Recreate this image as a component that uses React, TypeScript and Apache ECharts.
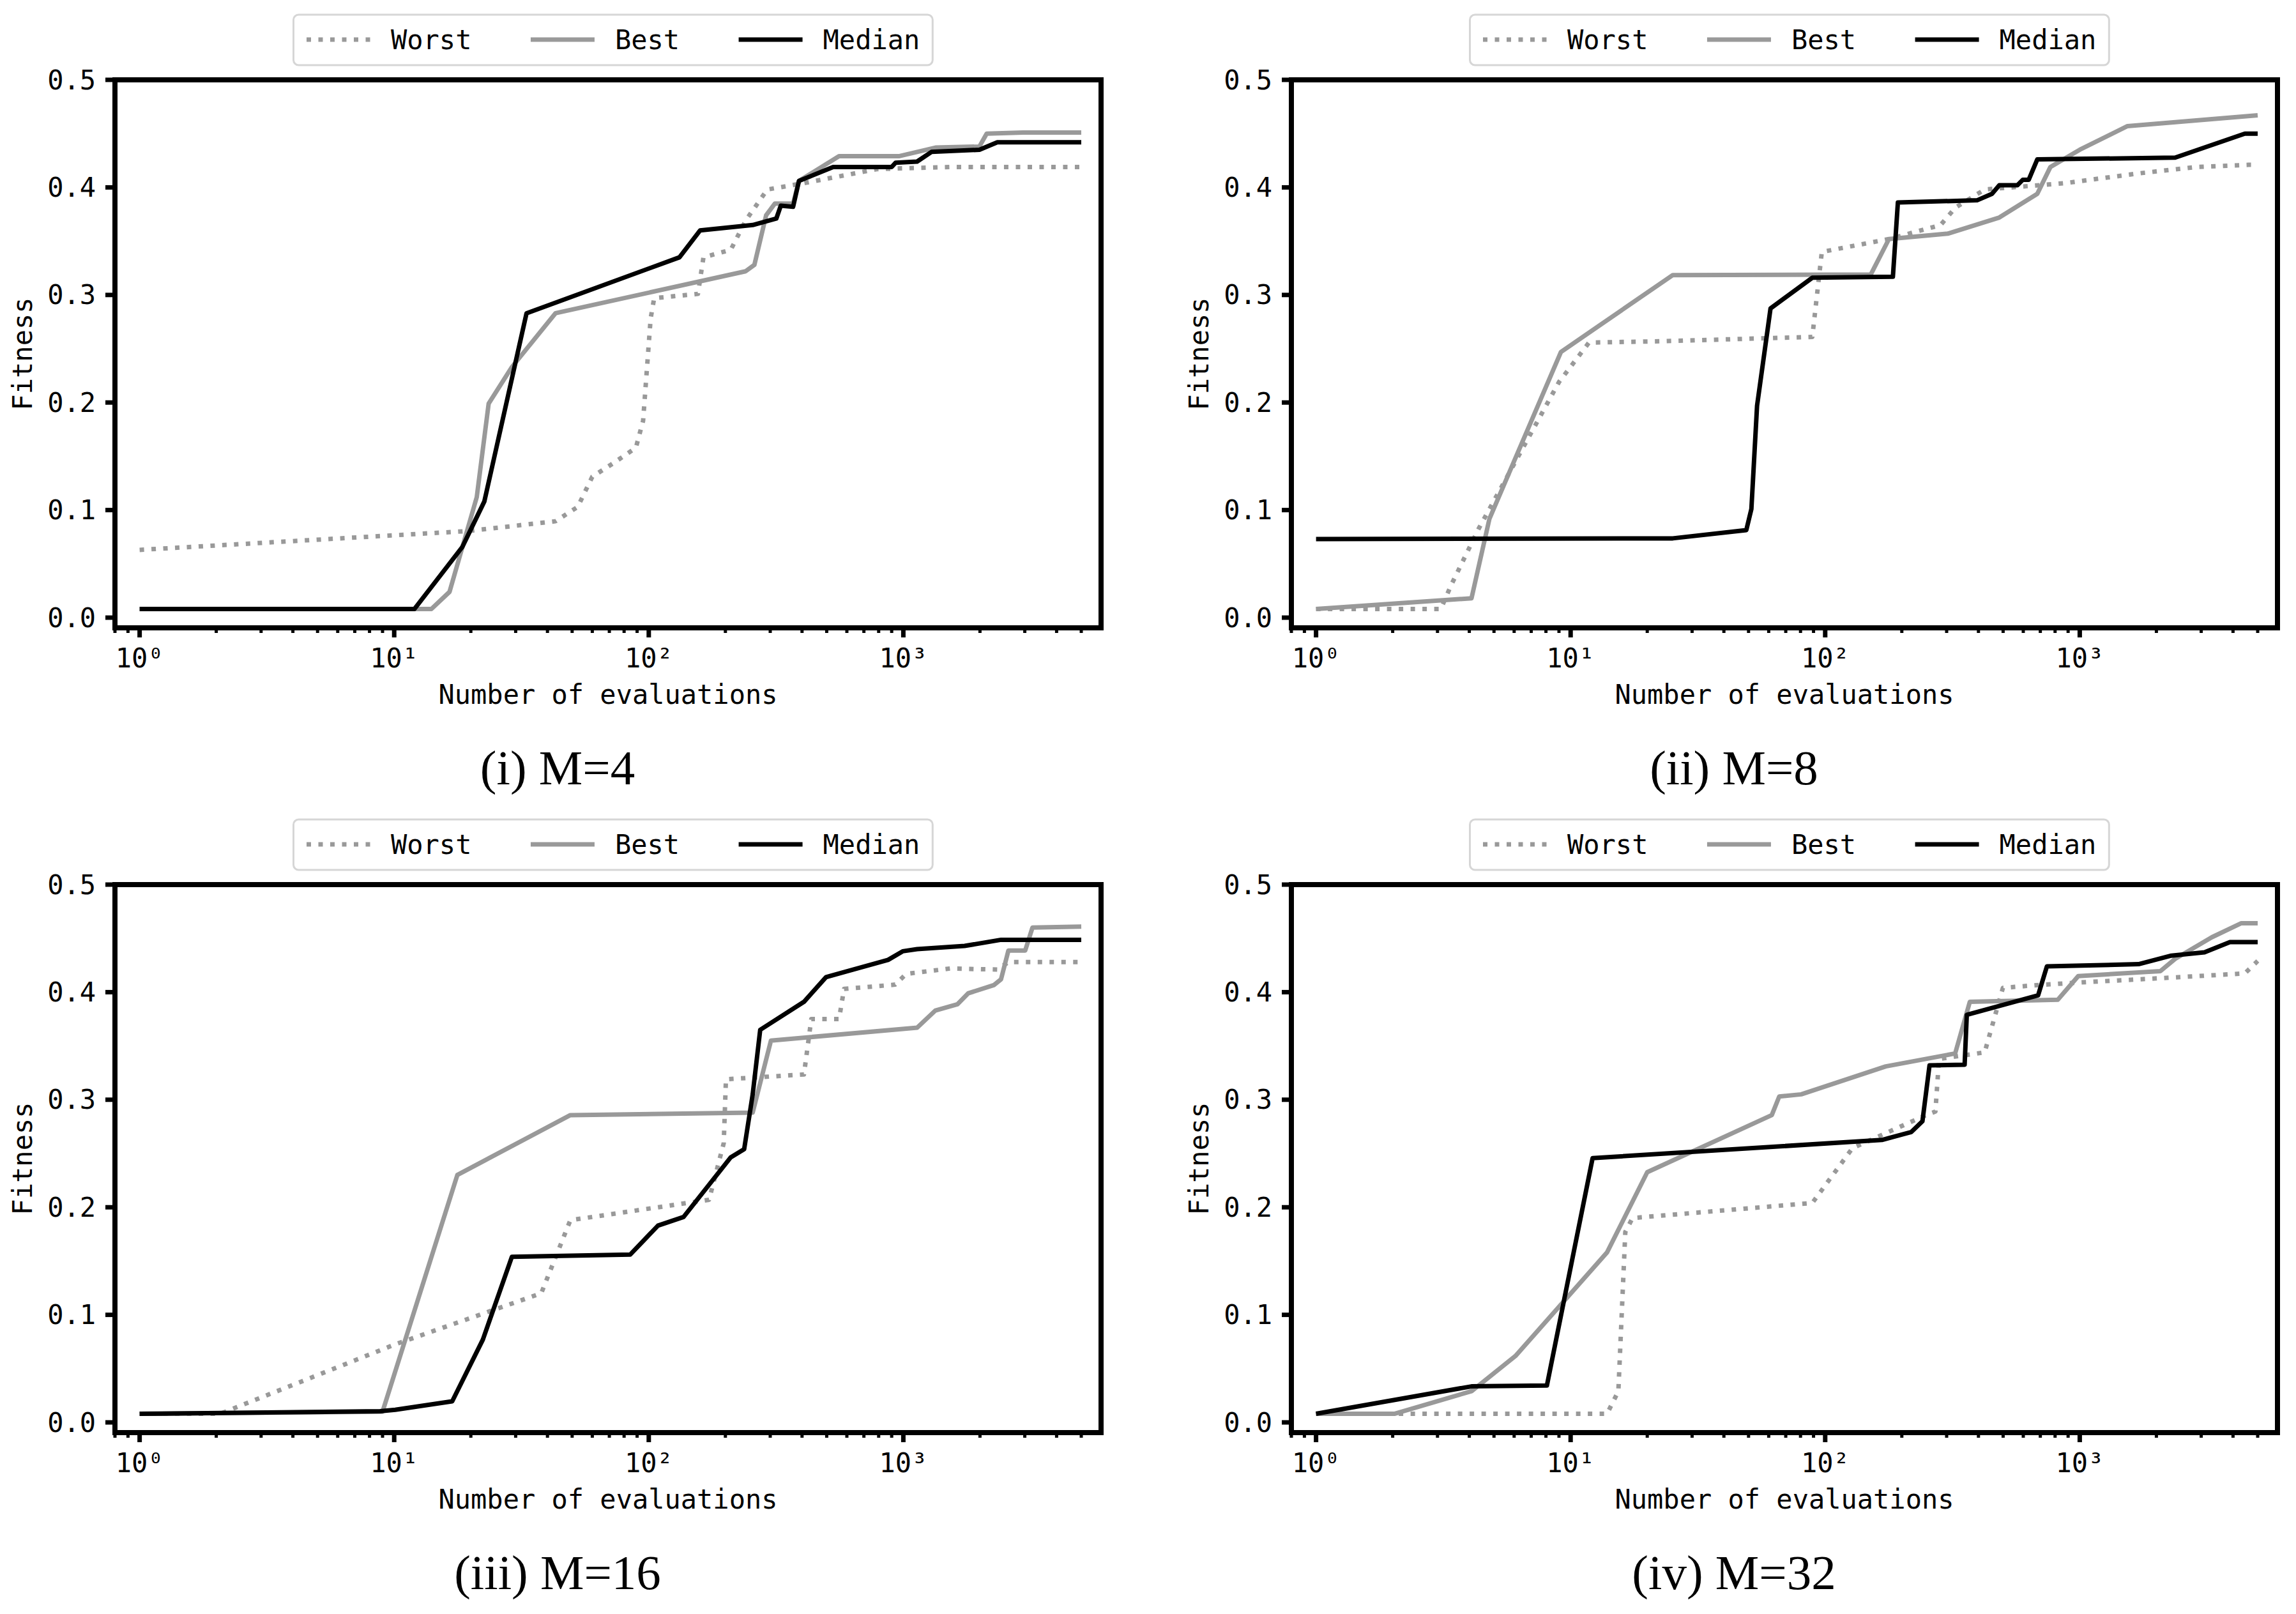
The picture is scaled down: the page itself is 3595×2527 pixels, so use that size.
import React, { useEffect, useRef } from "react";
import * as echarts from "echarts";

type Pt = [number, number];

const SERIES_NAMES = ["Worst", "Best", "Median"];
const PANEL_TITLES = ["(i) M=4", "(ii) M=8", "(iii) M=16", "(iv) M=32"];

// values: [evaluations, fitness]
const M4_WORST: Pt[] = [
  [1, 0.063], [19.5, 0.0805], [43, 0.0896], [52.6, 0.103], [60, 0.131], [73, 0.144],
  [89, 0.158], [95, 0.183], [101.7, 0.278], [105, 0.297], [156, 0.301], [164, 0.335],
  [210, 0.342], [240, 0.369], [292, 0.398], [407, 0.404], [788, 0.417], [1525, 0.419],
  [5000, 0.419],
];
const M4_BEST: Pt[] = [
  [1, 0.008], [14, 0.008], [16.5, 0.024], [21.1, 0.112], [23.5, 0.199], [29, 0.233],
  [43, 0.283], [240, 0.322], [260, 0.328], [289, 0.374], [313, 0.385], [369, 0.385],
  [389, 0.406], [559, 0.429], [960, 0.429], [1337, 0.437], [1990, 0.438], [2125, 0.45],
  [2955, 0.451], [5000, 0.451],
];
const M4_MEDIAN: Pt[] = [
  [1, 0.008], [12, 0.008], [18.5, 0.0655], [22.6, 0.108], [33.1, 0.283], [132, 0.335],
  [159, 0.36], [256, 0.365], [317, 0.371], [330, 0.383], [369, 0.382], [389, 0.406],
  [530, 0.419], [900, 0.419], [933, 0.423], [1132, 0.424], [1290, 0.433], [1990, 0.435],
  [2340, 0.442], [5000, 0.442],
];

const M8_WORST: Pt[] = [
  [1, 0.008], [3.09, 0.008], [3.39, 0.03], [4.36, 0.083], [9.0, 0.219], [11.8, 0.2557],
  [22.9, 0.257], [89, 0.261], [97, 0.34], [178, 0.352], [284, 0.365], [324, 0.381],
  [423, 0.398], [877, 0.404], [1700, 0.413], [2890, 0.419], [4600, 0.421], [5000, 0.421],
];
const M8_BEST: Pt[] = [
  [1, 0.008], [4.08, 0.018], [4.8, 0.092], [9.16, 0.247], [25.2, 0.3185], [151, 0.319],
  [178, 0.352], [303, 0.357], [483, 0.372], [681, 0.394], [767, 0.419], [1000, 0.435],
  [1540, 0.457], [5000, 0.467],
];
const M8_MEDIAN: Pt[] = [
  [1, 0.073], [25.2, 0.0737], [49, 0.0814], [51.3, 0.101], [54, 0.197], [61, 0.2875],
  [89, 0.316], [184.5, 0.317], [193, 0.386], [395, 0.388], [452, 0.394], [483, 0.402],
  [569, 0.402], [597, 0.407], [630, 0.407], [681, 0.426], [2371, 0.4277], [4450, 0.45],
  [5000, 0.45],
];

const M16_WORST: Pt[] = [
  [1, 0.008], [2.07, 0.008], [10.1, 0.0726], [37.8, 0.12], [49.2, 0.188], [172.5, 0.207],
  [197, 0.2596], [201, 0.319], [407, 0.3235], [435, 0.375], [559, 0.375], [585, 0.403],
  [929, 0.407], [1026, 0.417], [1525, 0.422], [2340, 0.421], [2590, 0.428], [5000, 0.428],
];
const M16_BEST: Pt[] = [
  [1, 0.008], [9.0, 0.01], [17.7, 0.23], [49.2, 0.2857], [256, 0.288], [302, 0.355],
  [1133, 0.367], [1337, 0.383], [1630, 0.3887], [1800, 0.399], [2266, 0.4065], [2420, 0.412],
  [2587, 0.4387], [3011, 0.4387], [3215, 0.46], [5000, 0.461],
];
const M16_MEDIAN: Pt[] = [
  [1, 0.008], [8.8, 0.0104], [10.1, 0.0117], [16.9, 0.0196], [22.3, 0.077], [29, 0.154],
  [84.5, 0.156], [108.7, 0.183], [137, 0.191], [210, 0.2465], [237, 0.254], [256, 0.305],
  [274, 0.365], [407, 0.391], [497, 0.414], [871, 0.43], [994, 0.438], [1133, 0.44],
  [1740, 0.443], [2420, 0.4487], [5000, 0.4487],
];

const M32_WORST: Pt[] = [
  [1, 0.008], [13.9, 0.008], [15.4, 0.029], [16.4, 0.177], [17.5, 0.19], [89, 0.204],
  [128, 0.255], [249, 0.2857], [271, 0.289], [280, 0.338], [423, 0.344], [499, 0.404],
  [673, 0.4065], [1000, 0.409], [2075, 0.413], [4450, 0.4174], [5000, 0.429],
];
const M32_BEST: Pt[] = [
  [1, 0.008], [2.03, 0.008], [4.08, 0.029], [6.07, 0.0617], [13.9, 0.158], [20, 0.2326],
  [61.7, 0.2857], [66, 0.303], [80.5, 0.305], [173, 0.331], [324, 0.343], [370, 0.391],
  [820, 0.393], [987, 0.415], [2075, 0.4196], [2370, 0.431], [3300, 0.451], [4300, 0.464],
  [5000, 0.464],
];
const M32_MEDIAN: Pt[] = [
  [1, 0.008], [4.08, 0.0335], [8.07, 0.0343], [12.2, 0.2457], [167, 0.2626], [218, 0.27],
  [241, 0.28], [257, 0.332], [353, 0.3326], [360, 0.379], [686, 0.397], [743, 0.424],
  [1702, 0.426], [2290, 0.434], [3090, 0.437], [3890, 0.4465], [5000, 0.4465],
];

const PANEL_DATA: Pt[][][] = [
  [M4_WORST, M4_BEST, M4_MEDIAN],
  [M8_WORST, M8_BEST, M8_MEDIAN],
  [M16_WORST, M16_BEST, M16_MEDIAN],
  [M32_WORST, M32_BEST, M32_MEDIAN],
];

const X_MAJOR = [1, 10, 100, 1000];
const X_MAJOR_LABELS = ["10⁰", "10¹", "10²", "10³"];
const X_MINOR = [
  0.8, 0.9, 2, 3, 4, 5, 6, 7, 8, 9, 20, 30, 40, 50, 60, 70, 80, 90,
  200, 300, 400, 500, 600, 700, 800, 900, 2000, 3000, 4000, 5000,
];
const Y_TICKS = [0, 0.1, 0.2, 0.3, 0.4, 0.5];
const Y_TICK_LABELS = ["0.0", "0.1", "0.2", "0.3", "0.4", "0.5"];

const X_MIN = 0.8;
const X_MAX = 5980;
const Y_MIN = -0.0095;
const Y_MAX = 0.5;

const W = 3595;
const H = 2527;
const PLOT_W = 1544;
const PLOT_H = 858;
const PANEL_POS = [
  { left: 180, top: 125 },
  { left: 2022, top: 125 },
  { left: 180, top: 1385 },
  { left: 2022, top: 1385 },
];
const LEGEND_W = 985;

const MONO = "DejaVu Sans Mono";
const GREY = "#999999";

const SERIES_STYLE = [
  { color: GREY, type: [7, 11.5] as any },
  { color: GREY, type: "solid" },
  { color: "#000000", type: "solid" },
];

const renderXTick = (_params: any, api: any) => {
  const p = api.coord([api.value(0), api.value(1)]);
  const major = api.value(2) === 1;
  const children: any[] = [
    {
      type: "line",
      shape: { x1: p[0], y1: p[1], x2: p[0], y2: p[1] + (major ? 15 : 8) },
      style: { stroke: "#000", lineWidth: major ? 7 : 5 },
    },
  ];
  if (major) {
    children.push({
      type: "text",
      x: p[0],
      y: p[1] + 26,
      style: {
        text: X_MAJOR_LABELS[api.value(3)],
        fill: "#000",
        fontFamily: MONO,
        fontSize: 42,
        align: "center",
        verticalAlign: "top",
      },
    });
  }
  return { type: "group", children };
};

const renderYTick = (_params: any, api: any) => {
  const p = api.coord([api.value(0), api.value(1)]);
  return {
    type: "group",
    children: [
      {
        type: "line",
        shape: { x1: p[0], y1: p[1], x2: p[0] - 15, y2: p[1] },
        style: { stroke: "#000", lineWidth: 7 },
      },
      {
        type: "text",
        x: p[0] - 30,
        y: p[1],
        style: {
          text: Y_TICK_LABELS[api.value(2)],
          fill: "#000",
          fontFamily: MONO,
          fontSize: 42,
          align: "right",
          verticalAlign: "middle",
        },
      },
    ],
  };
};

const buildOption = () => {
  const grid = PANEL_POS.map((p) => ({
    left: p.left,
    top: p.top,
    width: PLOT_W,
    height: PLOT_H,
    show: true,
    borderColor: "#000",
    borderWidth: 8,
    backgroundColor: "transparent",
    containLabel: false,
    outerBoundsMode: "none",
  }));

  const xAxis = PANEL_POS.map((_, i) => ({
    type: "log",
    logBase: 10,
    gridIndex: i,
    min: X_MIN,
    max: X_MAX,
    axisLine: { show: false },
    axisTick: { show: false },
    axisLabel: { show: false },
    splitLine: { show: false },
    name: "Number of evaluations",
    nameLocation: "middle",
    nameGap: 83,
    nameTextStyle: { fontFamily: MONO, fontSize: 42, color: "#000" },
  }));

  const yAxis = PANEL_POS.map((_, i) => ({
    type: "value",
    gridIndex: i,
    min: Y_MIN,
    max: Y_MAX,
    axisLine: { show: false },
    axisTick: { show: false },
    axisLabel: { show: false },
    splitLine: { show: false },
    name: "Fitness",
    nameLocation: "middle",
    nameGap: 124,
    nameTextStyle: { fontFamily: MONO, fontSize: 42, color: "#000" },
  }));

  const series: any[] = [];
  PANEL_DATA.forEach((lines, i) => {
    lines.forEach((data, k) => {
      series.push({
        type: "line",
        name: SERIES_NAMES[k],
        xAxisIndex: i,
        yAxisIndex: i,
        data,
        symbol: "none",
        lineStyle: {
          color: SERIES_STYLE[k].color,
          width: 7,
          type: SERIES_STYLE[k].type,
          join: "round",
        },
        itemStyle: { color: SERIES_STYLE[k].color },
      });
    });
    series.push({
      type: "custom",
      xAxisIndex: i,
      yAxisIndex: i,
      clip: false,
      silent: true,
      z: 5,
      renderItem: renderXTick,
      encode: { x: 0, y: 1 },
      data: [
        ...X_MAJOR.map((v, j) => [v, Y_MIN, 1, j]),
        ...X_MINOR.map((v) => [v, Y_MIN, 0, -1]),
      ],
    });
    series.push({
      type: "custom",
      xAxisIndex: i,
      yAxisIndex: i,
      clip: false,
      silent: true,
      z: 5,
      renderItem: renderYTick,
      encode: { x: 0, y: 1 },
      data: Y_TICKS.map((v, j) => [X_MIN, v, j]),
    });
  });

  const legend = PANEL_POS.map((p) => ({
    data: SERIES_NAMES,
    left: p.left + (PLOT_W - LEGEND_W) / 2,
    top: p.top - 102,
    orient: "horizontal",
    selectedMode: false,
    itemWidth: 100,
    itemHeight: 14,
    itemGap: 89,
    padding: [18, 20, 19, 17],
    borderColor: "#d6d6d6",
    borderWidth: 3,
    borderRadius: 8,
    backgroundColor: "rgba(255,255,255,0.8)",
    lineStyle: { width: 7 },
    // hide the marker dot that ECharts puts on a line icon
    itemStyle: { color: "transparent", borderColor: "transparent", borderWidth: 0 },
    textStyle: {
      fontFamily: MONO,
      fontSize: 42,
      color: "#000",
      padding: [0, 0, 0, 27],
    },
  }));

  const title = PANEL_POS.map((p, i) => ({
    text: PANEL_TITLES[i],
    left: p.left + PLOT_W / 2 - 79,
    top: p.top + 1038,
    textAlign: "center",
    padding: 0,
    textStyle: {
      fontFamily: "Liberation Serif",
      fontSize: 77,
      fontWeight: "normal",
      color: "#000",
    },
  }));

  return {
    animation: false,
    backgroundColor: "#ffffff",
    title,
    legend,
    grid,
    xAxis,
    yAxis,
    series,
  };
};

const App: React.FC = () => {
  const chartRef = useRef<HTMLDivElement>(null);

  useEffect(() => {
    if (!chartRef.current) return;
    const chart = echarts.init(chartRef.current, undefined, { renderer: "svg" });
    chart.setOption(buildOption() as any);
    return () => chart.dispose();
  }, []);

  return (
    <div
      ref={chartRef}
      style={{ position: "absolute", left: 0, top: 0, width: W, height: H }}
    />
  );
};

export default App;
